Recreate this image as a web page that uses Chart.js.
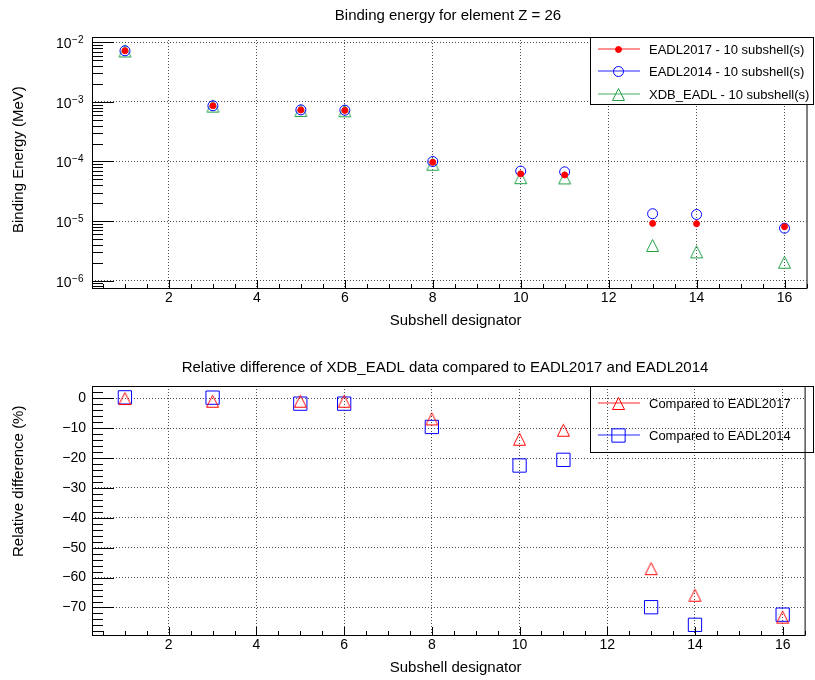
<!DOCTYPE html>
<html>
<head>
<meta charset="utf-8">
<script src="https://cdn.jsdelivr.net/npm/chart.js@4/dist/chart.umd.min.js"></script>
<style>
html,body{margin:0;padding:0;background:#fff;}
#wrap{position:relative;width:815px;height:680px;overflow:hidden;}
.pane{position:absolute;left:0;width:815px;height:340px;}
</style>
</head>
<body>
<div id="wrap">
  <div class="pane" style="top:0"><canvas id="c1" width="815" height="340"></canvas></div>
  <div class="pane" style="top:340px"><canvas id="c2" width="815" height="340"></canvas></div>
</div>
<script>
// ---------------- data ----------------
const subshells   = [1, 3, 5, 6, 8, 10, 11, 13, 14, 16];
const eadl2017    = [7.2e-3, 8.6e-4, 7.3e-4, 7.2e-4, 9.7e-5, 6.2e-5, 5.95e-5, 9.15e-6, 9.05e-6, 8.05e-6];
const eadl2014    = [7.2e-3, 8.6e-4, 7.35e-4, 7.25e-4, 1.0e-4, 6.9e-5, 6.7e-5, 1.33e-5, 1.29e-5, 7.6e-6];
const xdbEadl     = [7.15e-3, 8.5e-4, 7.2e-4, 7.1e-4, 9.0e-5, 5.35e-5, 5.3e-5, 3.9e-6, 3.05e-6, 2.04e-6];
const diffVs2017  = [-0.1, -1.0, -1.0, -1.0, -6.9, -13.7, -10.7, -57.0, -65.9, -73.2];
const diffVs2014  = [0.3, 0.2, -1.8, -1.8, -9.6, -22.5, -20.6, -69.9, -75.8, -72.4];
const xTickValues = [2, 4, 6, 8, 10, 12, 14, 16];
const yTopDecades = [1e-6, 1e-5, 1e-4, 1e-3, 1e-2];
const yTopExpLabels = ['\u22126', '\u22125', '\u22124', '\u22123', '\u22122'];
const yBottomTicks = [0, -10, -20, -30, -40, -50, -60, -70];
const topLegendLabels = ['EADL2017 - 10 subshell(s)', 'EADL2014 - 10 subshell(s)', 'XDB_EADL - 10 subshell(s)'];
const bottomLegendLabels = ['Compared to EADL2017', 'Compared to EADL2014'];

// ---------------- style ----------------
const FONT = '"Liberation Sans", Arial, Helvetica, sans-serif';
const RED = '#ff0000', BLUE = '#0000ff', GREEN = '#22a046';
const GRIDC = 'rgba(0,0,0,0.7)';
const NONE = 'rgba(0,0,0,0)';

function triImg(color) {
  const c = document.createElement('canvas');
  c.width = 15; c.height = 15;
  const g = c.getContext('2d');
  g.strokeStyle = color; g.lineWidth = 1;
  g.beginPath(); g.moveTo(1.5, 13.5); g.lineTo(13.5, 13.5); g.lineTo(7.5, 1.5); g.closePath(); g.stroke();
  return c;
}
const triGreen = triImg(GREEN);
const triRed = triImg(RED);

// marker styles (used both for datasets and the legend)
const topMarkers = [
  {style: 'circle', radius: 3, fill: RED, stroke: RED},
  {style: 'circle', radius: 5, fill: NONE, stroke: BLUE},
  {style: triGreen, radius: 7.5, fill: NONE, stroke: GREEN}
];
const bottomMarkers = [
  {style: triRed, radius: 7.5, fill: NONE, stroke: RED},
  {style: 'rect', radius: 9.4, fill: NONE, stroke: BLUE}
];

function pts(arr) { return subshells.map((x, i) => ({x: x, y: arr[i]})); }

function makeDataset(label, arr, m) {
  return {label: label, data: pts(arr), pointStyle: m.style, pointRadius: m.radius,
          pointBackgroundColor: m.fill, pointBorderColor: m.stroke, borderColor: m.stroke,
          backgroundColor: m.fill, pointBorderWidth: 1, showLine: false};
}

function drawMarker(ctx, m, x, y) {
  ctx.save();
  ctx.fillStyle = m.fill;
  ctx.strokeStyle = m.stroke;
  ctx.lineWidth = 1;
  Chart.helpers.drawPoint(ctx, {pointStyle: m.style, radius: m.radius, rotation: 0, borderWidth: 1}, x, y);
  ctx.restore();
}

function drawLegend(chart, box, rowsY, labels, markers) {
  const ctx = chart.ctx;
  ctx.save();
  if (box.fill) { ctx.fillStyle = '#fff'; ctx.fillRect(box.x0, box.y0, box.x1 - box.x0, box.y1 - box.y0); }
  ctx.strokeStyle = '#000'; ctx.lineWidth = 1;
  ctx.strokeRect(box.x0 + 0.5, box.y0 + 0.5, box.x1 - box.x0, box.y1 - box.y0);
  labels.forEach((lab, i) => {
    const y = Math.round(rowsY[i]);
    const m = markers[i];
    ctx.save();
    ctx.strokeStyle = m.stroke; ctx.lineWidth = 1.2; ctx.globalAlpha = 0.85;
    ctx.beginPath(); ctx.moveTo(598, y); ctx.lineTo(640, y); ctx.stroke();
    ctx.restore();
    drawMarker(ctx, m, 618.5, y + 0.5);
    ctx.fillStyle = '#000'; ctx.font = '13px ' + FONT; ctx.textAlign = 'left'; ctx.textBaseline = 'middle';
    ctx.fillText(lab, 649, y + 1);
  });
  ctx.restore();
}

function drawFrameTicks(chart, yMinor) {
  const ctx = chart.ctx, a = chart.chartArea, xs = chart.scales.x;
  ctx.save();
  ctx.strokeStyle = '#000'; ctx.lineWidth = 1;
  ctx.strokeRect(a.left + 0.5, a.top + 0.5, a.right - a.left, a.bottom - a.top);
  ctx.beginPath();
  for (let v = 0.5; v <= xs.max + 1e-9; v += 0.5) {
    if (v < xs.min) continue;
    const px = Math.round(xs.getPixelForValue(v)) + 0.5;
    const len = (v % 2 === 0) ? 8 : 4;
    ctx.moveTo(px, a.bottom); ctx.lineTo(px, a.bottom - len);
  }
  yMinor.forEach(t => {
    const py = Math.round(chart.scales.y.getPixelForValue(t.v)) + 0.5;
    ctx.moveTo(a.left, py); ctx.lineTo(a.left + t.len, py);
  });
  ctx.stroke();
  ctx.restore();
}

function drawText(ctx, text, x, y, size, align, rot) {
  ctx.save();
  ctx.translate(x, y);
  if (rot) ctx.rotate(rot);
  ctx.fillStyle = '#000'; ctx.font = size + 'px ' + FONT;
  ctx.textAlign = align; ctx.textBaseline = 'alphabetic';
  ctx.fillText(text, 0, 0);
  ctx.restore();
}

function axisX(height) {
  return {
    type: 'linear', min: 0.25, max: 16.5,
    afterBuildTicks: s => { s.ticks = xTickValues.map(v => ({value: v})); },
    afterFit: s => { s.height = height; },
    ticks: {font: {family: FONT, size: 14}, color: '#000', padding: 2, maxRotation: 0, autoSkip: false,
            callback: v => String(v)},
    grid: {color: GRIDC, lineWidth: 1, drawTicks: false},
    border: {display: false, dash: [1, 2]}
  };
}

// ---------------- top chart ----------------
const topPlugin = {
  id: 'rootTop',
  afterDraw(chart) {
    const ctx = chart.ctx, ys = chart.scales.y;
    const minor = [];
    for (let e = -7; e <= -2; e++) {
      for (let m = 1; m <= 9; m++) {
        const v = m * Math.pow(10, e);
        if (v >= ys.min && v <= ys.max) minor.push({v: v, len: m === 1 ? 22 : 11});
      }
    }
    drawFrameTicks(chart, minor);
    ctx.save();
    yTopDecades.forEach((d, i) => {
      const py = ys.getPixelForValue(d);
      ctx.fillStyle = '#000'; ctx.textAlign = 'right'; ctx.textBaseline = 'alphabetic';
      ctx.font = '10px ' + FONT;
      ctx.fillText(yTopExpLabels[i], 83.5, py + 1);
      const w = ctx.measureText(yTopExpLabels[i]).width;
      ctx.font = '14px ' + FONT;
      ctx.fillText('10', 83 - w, py + 6);
    });
    ctx.restore();
    drawLegend(chart, {x0: 590, y0: 37, x1: 813, y1: 104, fill: true}, [48.5, 71, 93.5], topLegendLabels, topMarkers);
    drawText(ctx, 'Binding energy for element Z = 26', 448, 20, 15, 'center');
    drawText(ctx, 'Binding Energy (MeV)', 23, 233, 15, 'left', -Math.PI / 2);
    drawText(ctx, 'Subshell designator', 521.5, 324.5, 15, 'right');
  }
};

new Chart(document.getElementById('c1'), {
  type: 'scatter',
  data: {
    datasets: [
      makeDataset(topLegendLabels[0], eadl2017, topMarkers[0]),
      makeDataset(topLegendLabels[1], eadl2014, topMarkers[1]),
      makeDataset(topLegendLabels[2], xdbEadl, topMarkers[2])
    ]
  },
  options: {
    animation: false, responsive: false, events: [],
    layout: {padding: {top: 37, right: 2, left: 0, bottom: 0}},
    plugins: {legend: {display: false}, title: {display: false}, tooltip: {enabled: false}},
    scales: {
      x: axisX(52),
      y: {
        type: 'logarithmic', min: 7.54e-7, max: 1.227e-2,
        afterBuildTicks: s => { s.ticks = yTopDecades.map(v => ({value: v})); },
        afterFit: s => { s.width = 92; },
        ticks: {display: false},
        grid: {color: GRIDC, lineWidth: 1, drawTicks: false},
        border: {display: false, dash: [1, 2]}
      }
    }
  },
  plugins: [topPlugin]
});

// ---------------- bottom chart ----------------
const bottomPlugin = {
  id: 'rootBottom',
  afterDraw(chart) {
    const ctx = chart.ctx, ys = chart.scales.y;
    const minor = [];
    for (let v = -78; v <= 4; v += 2) {
      if (v >= ys.min && v <= ys.max) minor.push({v: v, len: (v % 10 === 0) ? 22 : 11});
    }
    drawFrameTicks(chart, minor);
    drawLegend(chart, {x0: 590, y0: 46, x1: 813, y1: 112, fill: false}, [62.7, 95], bottomLegendLabels, bottomMarkers);
    drawText(ctx, 'Relative difference of XDB_EADL data compared to EADL2017 and EADL2014', 445, 32, 15, 'center');
    drawText(ctx, 'Relative difference (%)', 23, 217, 15, 'left', -Math.PI / 2);
    drawText(ctx, 'Subshell designator', 521.5, 331.5, 15, 'right');
  }
};

new Chart(document.getElementById('c2'), {
  type: 'scatter',
  data: {
    datasets: [
      makeDataset(bottomLegendLabels[0], diffVs2017, bottomMarkers[0]),
      makeDataset(bottomLegendLabels[1], diffVs2014, bottomMarkers[1])
    ]
  },
  options: {
    animation: false, responsive: false, events: [],
    layout: {padding: {top: 46, right: 2, left: 0, bottom: 0}},
    plugins: {legend: {display: false}, title: {display: false}, tooltip: {enabled: false}},
    scales: {
      x: axisX(45),
      y: {
        type: 'linear', min: -79.2, max: 4.1,
        afterBuildTicks: s => { s.ticks = yBottomTicks.map(v => ({value: v})); },
        afterFit: s => { s.width = 92; },
        ticks: {font: {family: FONT, size: 14}, color: '#000', padding: 6, autoSkip: false,
                callback: v => String(v).replace('-', '\u2212')},
        grid: {color: GRIDC, lineWidth: 1, drawTicks: false},
        border: {display: false, dash: [1, 2]}
      }
    }
  },
  plugins: [bottomPlugin]
});
</script>
</body>
</html>
